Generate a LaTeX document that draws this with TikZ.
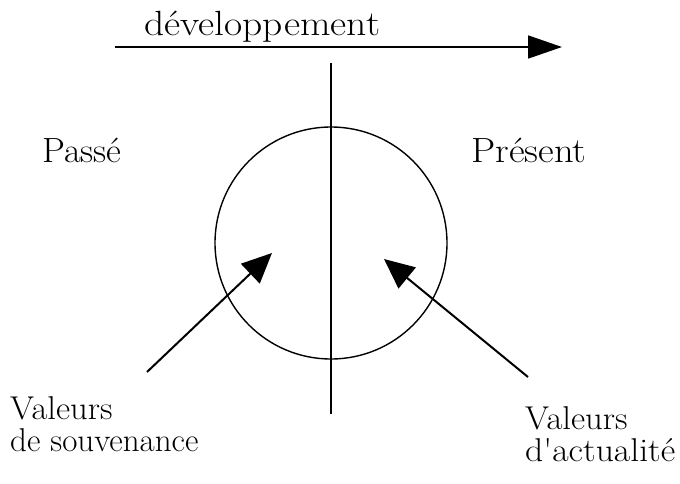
\documentclass[tikz,border=0pt]{standalone}
\usepackage{fontspec}
\usetikzlibrary{arrows.meta}
\newcommand{\stretchtxt}[2]{\scalebox{#1}[1]{#2}}
\begin{document}
\begin{tikzpicture}[x=1pt,y=-1pt,
  lbl/.style={inner sep=0pt, anchor=base west, font=\fontsize{33}{40}\selectfont},
  toplbl/.style={inner sep=0pt, anchor=base west, font=\fontsize{35}{40}\selectfont},
  sidelbl/.style={inner sep=0pt, anchor=base west, font=\fontsize{35}{40}\selectfont},
  toparrow/.style={line width=1.8pt, -{Triangle[length=34pt,width=23pt]}},
  sidearrow/.style={line width=2pt, -{Triangle[length=30pt,width=27pt]}},
  thin/.style={line width=1.4pt}]
\useasboundingbox (0,0) rectangle (680,483);
% top arrow
\coordinate (atail) at (115,47);
\coordinate (ahead) at (562,47);
\draw[toparrow] (atail) -- (ahead);
\node[toplbl] (dev) at (144,35) {\stretchtxt{1.13}{développement}};
% vertical axis and circle
\coordinate (vtop) at (331,63);
\coordinate (vbot) at (331,414);
\draw[thin] (vtop) -- (vbot);
\node[draw, thin, circle, minimum size=232pt, inner sep=0pt] (circ) at (331,243) {};
% labels
\node[sidelbl] (passe) at (42,162) {\stretchtxt{1.04}{Passé}};
\node[sidelbl] (present) at (471,162) {\stretchtxt{1.1}{Présent}};
% arrows into circle
\coordinate (ltail) at (147,372);
\coordinate (ltip) at (272,253);
\coordinate (rtail) at (528,377);
\coordinate (rtip) at (384,259);
\draw[sidearrow] (ltail) -- (ltip);
\draw[sidearrow] (rtail) -- (rtip);
% bottom labels
\node[lbl] (lv1) at (10,419) {\stretchtxt{1.05}{Valeurs}};
\node[lbl] (lv2) at (10,451) {\stretchtxt{1.0}{de souvenance}};
\node[lbl] (rv1) at (525,429) {\stretchtxt{1.05}{Valeurs}};
\node[lbl] (rv2) at (525,461) {\stretchtxt{1.08}{d\textquotesingle actualité}};
\end{tikzpicture}
\end{document}
